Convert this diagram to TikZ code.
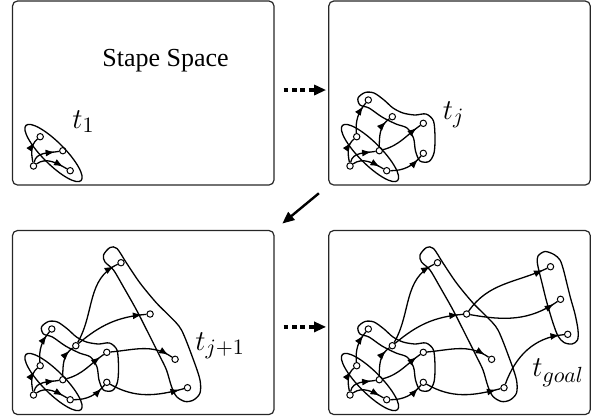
\documentclass[tikz,border=0pt]{standalone}
\usepackage{fontspec}
\setmainfont{Liberation Serif}
\usetikzlibrary{arrows.meta, decorations.markings}

% stages of the growing graph (#1 = name prefix)
\newcommand{\stageone}[1]{%
  \node[st] (#1a) at (21,165) {};
  \node[st] (#1b) at (27.7,135.7) {};
  \node[st] (#1c) at (50.3,149.7) {};
  \node[st] (#1d) at (57.7,169.7) {};
  \draw[group, rotate around={-45:(41,152)}] (41,152) ellipse (19.5pt and 5.5pt);
  \draw[link] (#1a) to[out=100,in=220] (#1b);
  \draw[link] (#1a) to[out=80,in=190] (#1c);
  \draw[link] (#1a) to[out=35,in=150] (#1d);
}
\newcommand{\stagetwo}[1]{%
  \node[st] (#1e) at (39.3,99) {};
  \node[st] (#1f) at (63.3,115.7) {};
  \node[st] (#1g) at (94.3,122.3) {};
  \node[st] (#1h) at (94.3,152.3) {};
  \draw[group] plot[smooth cycle] coordinates {(29,97) (36,91.5) (45,92) (55,99) (64,107) (74,112) (86,114) (97,113) (104.5,120) (106,137) (105,152) (100,160.5) (91,160) (86.5,150) (84.5,137) (78,127) (67,123) (53,116) (40,107) (31,104)};
  \draw[link] (#1b) to[out=95,in=230] (#1e);
  \draw[link] (#1c) to[out=90,in=215] (#1f);
  \draw[link] (#1c) to[out=15,in=215] (#1g);
  \draw[link] (#1d) to[out=0,in=230] (#1h);
}
\newcommand{\stagethree}[1]{%
  \node[st] (#1i) at (108.5,32.7) {};
  \node[st] (#1j) at (137.6,84) {};
  \node[st] (#1k) at (162.6,129.3) {};
  \node[st] (#1l) at (175,157.7) {};
  \draw[group] plot[smooth cycle] coordinates {(91,25) (97.5,17.5) (104.5,18.5) (114,33) (127.5,53) (144,73) (157.5,86.5) (169,100) (181,130) (187.5,150) (187.5,163) (181,170) (172.5,171.5) (164,166.5) (159,156.5) (154,140) (147.5,126.5) (137.5,106.5) (124,80) (111,57) (101,40) (92.5,32)};
  \draw[link] (#1f) to[out=60,in=205] (#1i);
  \draw[link] (#1f) to[out=40,in=185] (#1j);
  \draw[link] (#1g) to[out=5,in=145] (#1k);
  \draw[link] (#1h) to[out=-30,in=195] (#1l);
}
\newcommand{\stagefour}[1]{%
  \node[st] (#1m) at (221.5,36.7) {};
  \node[st] (#1n) at (231.5,69.3) {};
  \node[st] (#1o) at (238.7,104.3) {};
  \draw[group] plot[smooth cycle] coordinates {(209,26) (216,21.5) (225,24.5) (231,30) (234.5,40) (238,54) (241.5,68) (246,84) (249,100) (248.5,110) (243,114) (235,112.5) (229,106) (224,93) (218,73) (213,53) (208.5,34)};
  \draw[link] (#1j) to[out=55,in=205] (#1m);
  \draw[link] (#1j) to[out=-10,in=215] (#1n);
  \draw[link] (#1l) to[out=70,in=185] (#1o);
}

\begin{document}
\begin{tikzpicture}[
    x=0.5pt, y=-0.5pt,
    panel/.style={draw=black!85, rounded corners=2.5pt, line width=0.6pt, minimum width=130.75pt, minimum height=92pt, inner sep=0pt},
    st/.style={draw, circle, fill=white, inner sep=0pt, minimum size=3.2pt, line width=0.5pt},
    group/.style={line width=0.65pt},
    link/.style={line width=0.65pt, postaction=decorate, decoration={markings, mark=at position -2.2pt with {\arrow{Latex[length=4.6pt,width=3.5pt]}}}},
    tlabel/.style={font=\fontsize{15}{18}\selectfont, inner sep=0pt, anchor=base west},
    dotarrow/.style={line width=1.7pt, dash pattern=on 2.4pt off 1.8pt, -{Triangle[length=6pt,width=5pt]}},
    bigarrow/.style={line width=1.2pt, -{Triangle[length=6pt,width=5pt]}}
]
\useasboundingbox (0,0) rectangle (597,419);

% Panels
\node[panel] (p1) at (143.25,93) {};
\node[panel] (p2) at (459.5,93) {};
\node[panel] (p3) at (143.25,322.5) {};
\node[panel] (p4) at (459.5,322.5) {};
\node[font=\fontsize{13}{15}\selectfont, anchor=base] (title) at (165.5,66.7) {Stape Space};

% Graphs
\begin{scope}[shift={(12.5,1)}]
  \stageone{p1}
\end{scope}
\begin{scope}[shift={(329,1)}]
  \stageone{p2}\stagetwo{p2}
\end{scope}
\begin{scope}[shift={(12.5,230)}]
  \stageone{p3}\stagetwo{p3}\stagethree{p3}
\end{scope}
\begin{scope}[shift={(329,230)}]
  \stageone{p4}\stagetwo{p4}\stagethree{p4}\stagefour{p4}
\end{scope}

% Labels
\node[tlabel] (t1) at (72,128) {$t_1$};
\node[tlabel] (tj) at (442.5,119) {$t_j$};
\node[tlabel] (tjj) at (195,350) {$t_{j+1}$};
\node[tlabel] (tgoal) at (532,376.7) {$t_{goal}$};

% Arrows
\draw[dotarrow, shorten <=4.5pt, shorten >=1pt] ([yshift=1.5pt]p1.east) -- ([yshift=1.5pt]p2.west);
\draw[bigarrow, shorten <=6pt, shorten >=5pt] (p2.south west) -- (p3.north east);
\draw[dotarrow, shorten <=4.5pt, shorten >=1pt] ([yshift=-2.2pt]p3.east) -- ([yshift=-2.2pt]p4.west);

\end{tikzpicture}
\end{document}
